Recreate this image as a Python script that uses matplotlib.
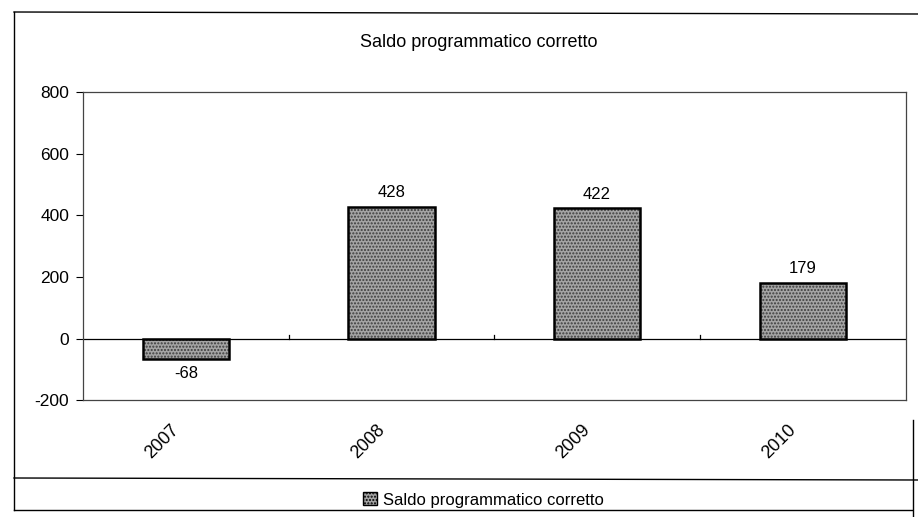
import matplotlib.pyplot as plt
from matplotlib.lines import Line2D
from matplotlib.patches import Patch

plt.rcParams['font.family'] = ['Liberation Sans', 'DejaVu Sans']
plt.rcParams['axes.unicode_minus'] = False

# dati
anni = ['2007', '2008', '2009', '2010']
saldo = [-68, 428, 422, 179]
titolo = 'Saldo programmatico corretto'

fig = plt.figure(figsize=(9.18, 5.17), dpi=100)
ax = fig.add_axes([0.0904, 0.226, 0.896, 0.596])

x = range(len(anni))
# riempimento puntinato + contorno nero
ax.bar(x, saldo, width=0.42, color='#a4a4a4', edgecolor='#3c3c3c',
       hatch='.....', linewidth=0, zorder=3)
ax.bar(x, saldo, width=0.42, facecolor='none', edgecolor='black',
       linewidth=1.8, zorder=4)

for xi, v in zip(x, saldo):
    if v >= 0:
        ax.annotate(str(v), (xi, v), xytext=(0, 5), textcoords='offset points',
                    ha='center', va='bottom', fontsize=12)
    else:
        ax.annotate(str(v), (xi, v), xytext=(0, -5), textcoords='offset points',
                    ha='center', va='top', fontsize=12)

ax.set_xlim(-0.5, len(anni) - 0.5)
ax.set_ylim(-200, 800)
ax.set_yticks(range(-200, 801, 200))
ax.tick_params(axis='y', labelsize=12.5, length=5, width=0.8, pad=5)
ax.set_xticks([])

# asse delle categorie sullo zero con tacche tra le categorie
ax.axhline(0, color='black', linewidth=0.9, zorder=2)
for b in [0.5, 1.5, 2.5]:
    ax.plot([b, b], [0, 12], color='black', linewidth=0.9, zorder=2)

for xi, lab in zip(x, anni):
    ax.annotate(lab, (xi, -200), xytext=(-11, -15), textcoords='offset points',
                rotation=45, ha='right', va='top', rotation_mode='anchor',
                fontsize=13, annotation_clip=False)

for s in ax.spines.values():
    s.set_color('#444444')
    s.set_linewidth(0.9)

fig.text(0.521, 0.918, titolo, ha='center', va='center', fontsize=13)

# cornice del grafico
W, H = 918, 517
def linea(x0, y0, x1, y1):
    fig.add_artist(Line2D([x0 / W, x1 / W], [1 - y0 / H, 1 - y1 / H],
                          color='black', linewidth=1.0))

linea(14, 12, 918, 14)
linea(14, 12, 14, 510)
linea(14, 478, 918, 480)
linea(14, 510, 912, 510)
linea(913, 420, 913, 517)

fig.legend(handles=[Patch(facecolor='#a4a4a4', edgecolor='black', hatch='.....',
                          label=titolo)],
           loc='center', bbox_to_anchor=(0.527, 0.033), frameon=False,
           fontsize=12, handlelength=0.8, handleheight=0.8, handletextpad=0.4)

fig.savefig('out.png', dpi=100)
